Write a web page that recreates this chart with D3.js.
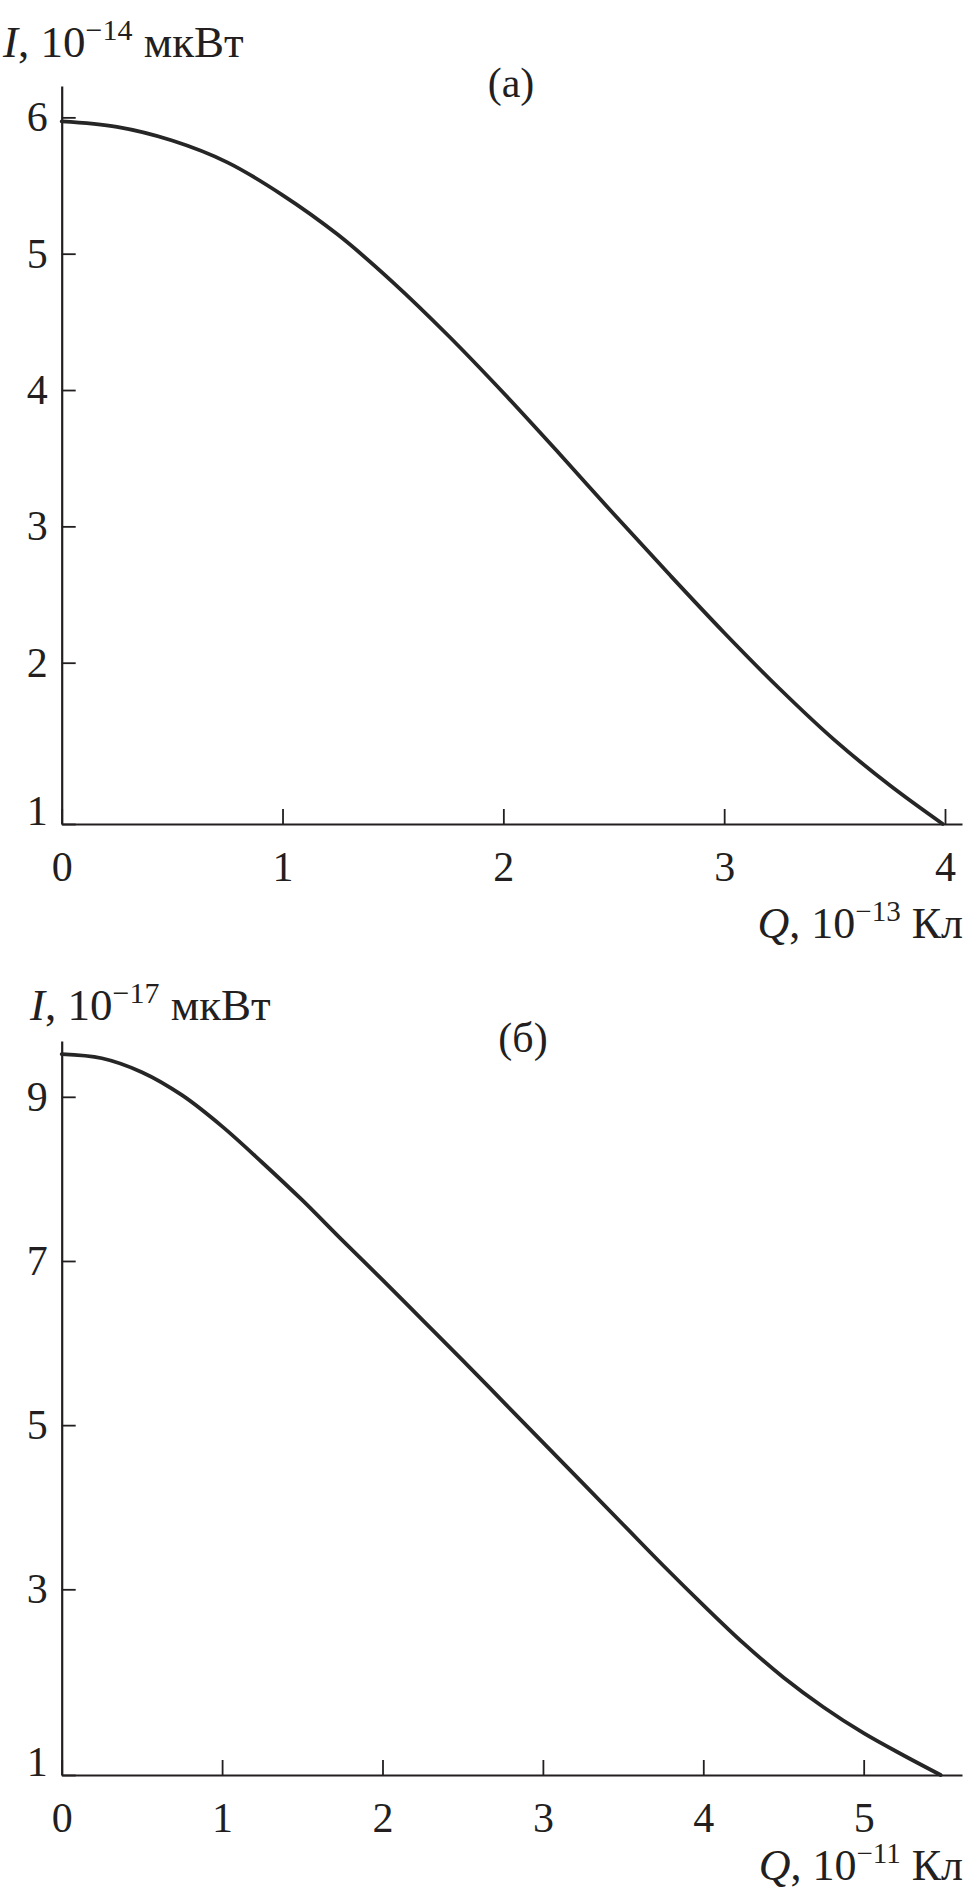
<!DOCTYPE html>
<html>
<head>
<meta charset="utf-8">
<script src="https://cdn.jsdelivr.net/npm/d3@7"></script>
<style>
  body { margin: 0; background: #fff; }
  svg text { font-family: "Liberation Serif", "DejaVu Serif", serif; fill: #231f20; }
</style>
</head>
<body>
<svg id="chart"></svg>
<script>
const width = 966;
const height = 1891;

// panel (a): I, 10^-14 мкВт vs Q, 10^-13 Кл
const chargeA = [0, 0.25, 0.5, 0.75, 1.0, 1.25, 1.5, 1.75, 2.0, 2.25, 2.5, 2.75, 3.0, 3.25, 3.5, 3.75, 3.99];
const powerA = [5.97, 5.93, 5.83, 5.67, 5.43, 5.14, 4.79, 4.40, 3.98, 3.54, 3.09, 2.65, 2.22, 1.84, 1.52, 1.24, 1.0];
const xTicksA = [0, 1, 2, 3, 4];
const yTicksA = [1, 2, 3, 4, 5, 6];

// panel (б): I, 10^-17 мкВт vs Q, 10^-11 Кл
const chargeB = [0, 0.25, 0.5, 0.75, 1.0, 1.25, 1.5, 1.75, 2.0, 2.25, 2.5, 2.75, 3.0, 3.25, 3.5, 3.75, 4.0, 4.25, 4.5, 4.75, 5.0, 5.25, 5.48];
const powerB = [9.52, 9.47, 9.30, 9.02, 8.64, 8.20, 7.74, 7.25, 6.77, 6.28, 5.79, 5.29, 4.79, 4.29, 3.79, 3.29, 2.83, 2.42, 2.05, 1.73, 1.45, 1.21, 1.0];
const xTicksB = [0, 1, 2, 3, 4, 5];
const yTicksB = [1, 3, 5, 7, 9];

const svg = d3.select("#chart")
              .attr("width", width)
              .attr("height", height);

const ink = "#231f20";

function drawPanel(p) {
  const x = d3.scaleLinear()
              .domain([0, p.xMax])
              .range([p.left, p.right]);

  // the bottom label "1" sits on the corner, so the last segment is stretched
  const y = d3.scaleLinear()
              .domain([1, p.yKnee, p.yMax])
              .range([p.bottom, p.kneePx, p.top]);

  const g = svg.append("g");

  const xAxis = g.append("g")
                 .attr("transform", "translate(0," + p.bottom + ")")
                 .call(d3.axisBottom(x)
                         .tickValues(p.xTicks)
                         .tickSize(-15)
                         .tickSizeOuter(0)
                         .tickPadding(27)
                         .tickFormat(d3.format("d")));

  const yAxis = g.append("g")
                 .attr("transform", "translate(" + p.left + ",0)")
                 .call(d3.axisLeft(y)
                         .tickValues(p.yTicks)
                         .tickSize(-14)
                         .tickSizeOuter(0)
                         .tickPadding(14)
                         .tickFormat(d3.format("d")));

  [xAxis, yAxis].forEach(a => {
    a.select(".domain").attr("stroke", ink).attr("stroke-width", 2.2);
    a.selectAll(".tick line").attr("stroke", ink).attr("stroke-width", 1.8);
    a.selectAll(".tick text")
     .attr("fill", ink)
     .style("font-size", "42px");
  });

  yAxis.selectAll(".tick text")
       .filter(d => d === 1)
       .attr("dy", "0.02em");

  const line = d3.line()
                 .x(d => x(d[0]))
                 .y(d => y(d[1]))
                 .curve(d3.curveCatmullRom.alpha(0.5));

  g.append("path")
   .datum(d3.zip(p.charge, p.power))
   .attr("fill", "none")
   .attr("stroke", "#262626")
   .attr("stroke-width", 3.8)
   .attr("stroke-linecap", "round")
   .attr("d", line);

  // y title
  const yt = g.append("text")
              .attr("x", p.yTitleX)
              .attr("y", p.yTitleY)
              .style("font-size", "45px");
  yt.append("tspan").style("font-style", "italic").text("I");
  yt.append("tspan").text(", 10");
  yt.append("tspan").attr("dy", -17).style("font-size", "30px").text("−" + p.yExp);
  yt.append("tspan").attr("dy", 17).text(" мкВт");

  // panel letter
  g.append("text")
   .attr("x", p.letterX)
   .attr("y", p.letterY)
   .attr("text-anchor", "middle")
   .style("font-size", "42px")
   .text(p.letter);

  // x title
  const xt = g.append("text")
              .attr("x", 963)
              .attr("y", p.xTitleY)
              .attr("text-anchor", "end")
              .style("font-size", "44px");
  xt.append("tspan").style("font-style", "italic").text("Q");
  xt.append("tspan").text(", 10");
  xt.append("tspan").attr("dy", -17).style("font-size", "29px").text("−" + p.xExp);
  xt.append("tspan").attr("dy", 17).text(" Кл");
}

drawPanel({
  charge: chargeA, power: powerA, xTicks: xTicksA, yTicks: yTicksA,
  xMax: 4.077, yKnee: 2, yMax: 6.23,
  left: 61.7, right: 962, top: 86, kneePx: 662.7, bottom: 824,
  yTitleX: 3, yTitleY: 57, yExp: "14",
  letter: "(a)", letterX: 511, letterY: 97,
  xTitleY: 938, xExp: "13"
});

drawPanel({
  charge: chargeB, power: powerB, xTicks: xTicksB, yTicks: yTicksB,
  xMax: 5.613, yKnee: 3, yMax: 9.68,
  left: 61.7, right: 962, top: 1041, kneePx: 1589.3, bottom: 1775,
  yTitleX: 30, yTitleY: 1020, yExp: "17",
  letter: "(б)", letterX: 523, letterY: 1052,
  xTitleY: 1880, xExp: "11"
});
</script>
</body>
</html>
